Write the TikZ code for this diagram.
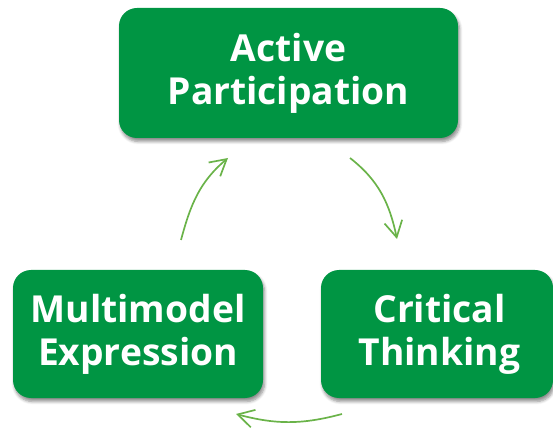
\documentclass[tikz,border=0pt]{standalone}
\usepackage{fontspec}
\setmainfont{Open Sans}
\usetikzlibrary{arrows.meta,shadows.blur}
\definecolor{boxgreen}{HTML}{009543}
\definecolor{arrgreen}{HTML}{6AB349}
\tikzset{
  stagebox/.style={rounded corners=18pt, fill=boxgreen, text=white, align=center,
    font=\fontsize{37.2}{43}\selectfont\bfseries, inner sep=0pt,
    blur shadow={shadow xshift=1.5pt, shadow yshift=-3.5pt, shadow blur steps=6, shadow blur radius=3pt, shadow opacity=45}},
  cyclearrow/.style={draw=arrgreen, line width=1.7pt, -{Straight Barb[length=16pt,width=18pt,line width=1.7pt]}}
}
\begin{document}
\begin{tikzpicture}[x=1pt,y=1pt]
\useasboundingbox (0,0) rectangle (553,428);
\node[stagebox, minimum width=339pt, minimum height=130pt] (top) at (288.5,355) {Active\\Participation};
\node[stagebox, minimum width=250pt, minimum height=128pt] (left) at (138,94) {Multimodel\\Expression};
\node[stagebox, minimum width=232pt, minimum height=128pt] (right) at (437,94) {\hspace*{5pt}Critical\\\hspace*{5pt}Thinking};
\coordinate (a1s) at (181,188);
\coordinate (a1e) at (228,270);
\coordinate (a2s) at (350,270);
\coordinate (a2e) at (397,189);
\coordinate (a3s) at (342,14);
\coordinate (a3e) at (236,14);
\draw[cyclearrow] (a1s) to[out=75,in=-140] (a1e);
\draw[cyclearrow] (a2s) to[out=-38,in=102] (a2e);
\draw[cyclearrow] (a3s) to[out=195,in=-15] (a3e);
\end{tikzpicture}
\end{document}
